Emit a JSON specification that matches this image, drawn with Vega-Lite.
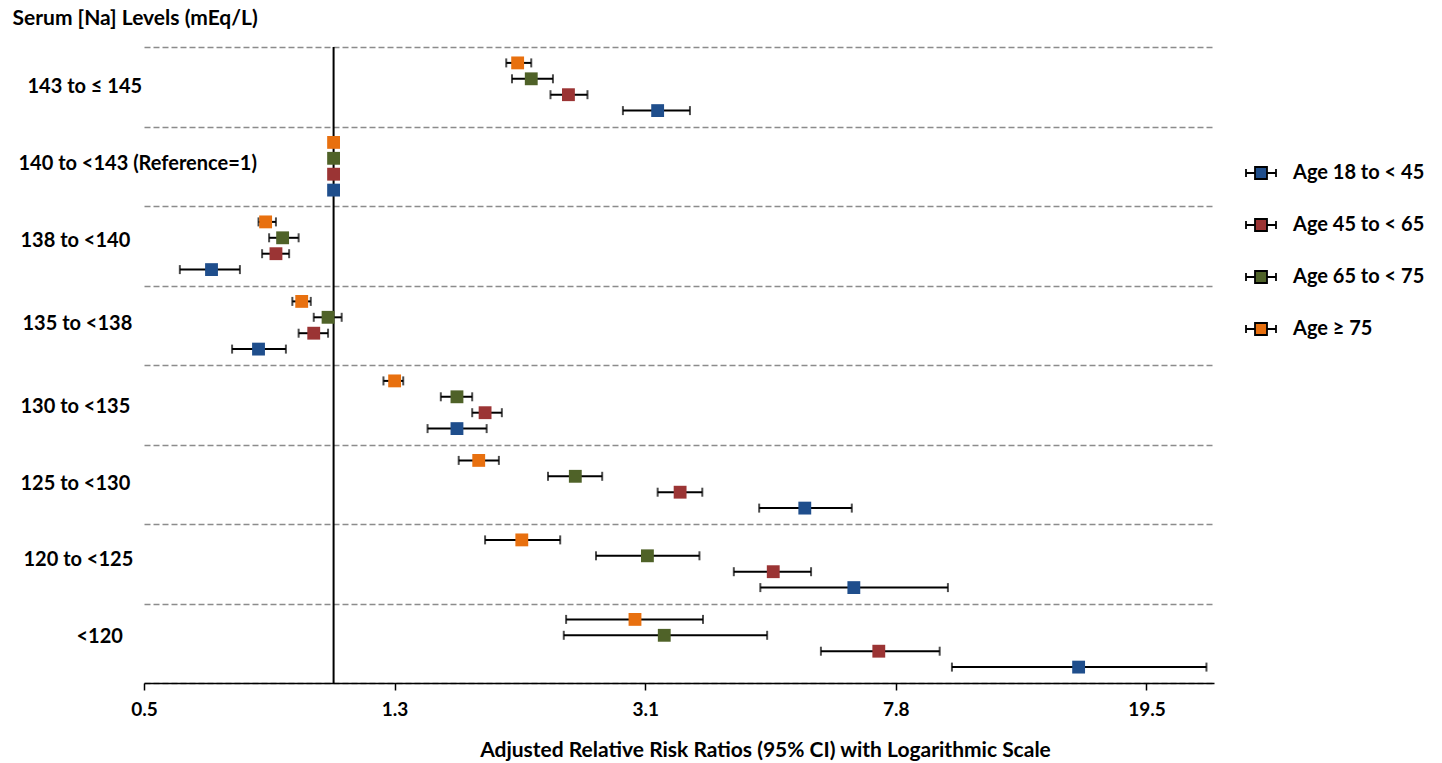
{
  "$schema": "https://vega.github.io/schema/vega-lite/v6.json",
  "width": 1070,
  "height": 636,
  "autosize": {"type": "none"},
  "padding": {"left": 144, "top": 47, "right": 228, "bottom": 80},
  "background": "white",
  "config": {"view": {"stroke": null}, "font": "Lato"},
  "data": {
    "values": [
      {"group": "143 to ≤ 145", "age": "Age ≥ 75", "est": 1.96, "lo": 1.88, "hi": 2.06},
      {"group": "143 to ≤ 145", "age": "Age 65 to < 75", "est": 2.06, "lo": 1.92, "hi": 2.23},
      {"group": "143 to ≤ 145", "age": "Age 45 to < 65", "est": 2.36, "lo": 2.21, "hi": 2.53},
      {"group": "143 to ≤ 145", "age": "Age 18 to < 45", "est": 3.27, "lo": 2.88, "hi": 3.68},
      {"group": "140 to <143 (Reference=1)", "age": "Age ≥ 75", "est": 1, "lo": 1, "hi": 1},
      {"group": "140 to <143 (Reference=1)", "age": "Age 65 to < 75", "est": 1, "lo": 1, "hi": 1},
      {"group": "140 to <143 (Reference=1)", "age": "Age 45 to < 65", "est": 1, "lo": 1, "hi": 1},
      {"group": "140 to <143 (Reference=1)", "age": "Age 18 to < 45", "est": 1, "lo": 1, "hi": 1},
      {"group": "138 to <140", "age": "Age ≥ 75", "est": 0.78, "lo": 0.76, "hi": 0.81},
      {"group": "138 to <140", "age": "Age 65 to < 75", "est": 0.83, "lo": 0.79, "hi": 0.88},
      {"group": "138 to <140", "age": "Age 45 to < 65", "est": 0.81, "lo": 0.77, "hi": 0.85},
      {"group": "138 to <140", "age": "Age 18 to < 45", "est": 0.64, "lo": 0.57, "hi": 0.71},
      {"group": "135 to <138", "age": "Age ≥ 75", "est": 0.89, "lo": 0.86, "hi": 0.92},
      {"group": "135 to <138", "age": "Age 65 to < 75", "est": 0.98, "lo": 0.93, "hi": 1.03},
      {"group": "135 to <138", "age": "Age 45 to < 65", "est": 0.93, "lo": 0.88, "hi": 0.98},
      {"group": "135 to <138", "age": "Age 18 to < 45", "est": 0.76, "lo": 0.69, "hi": 0.84},
      {"group": "130 to <135", "age": "Age ≥ 75", "est": 1.25, "lo": 1.2, "hi": 1.29},
      {"group": "130 to <135", "age": "Age 65 to < 75", "est": 1.57, "lo": 1.48, "hi": 1.66},
      {"group": "130 to <135", "age": "Age 45 to < 65", "est": 1.74, "lo": 1.66, "hi": 1.85},
      {"group": "130 to <135", "age": "Age 18 to < 45", "est": 1.57, "lo": 1.41, "hi": 1.75},
      {"group": "125 to <130", "age": "Age ≥ 75", "est": 1.7, "lo": 1.58, "hi": 1.83},
      {"group": "125 to <130", "age": "Age 65 to < 75", "est": 2.42, "lo": 2.19, "hi": 2.67},
      {"group": "125 to <130", "age": "Age 45 to < 65", "est": 3.55, "lo": 3.27, "hi": 3.85},
      {"group": "125 to <130", "age": "Age 18 to < 45", "est": 5.6, "lo": 4.74, "hi": 6.65},
      {"group": "120 to <125", "age": "Age ≥ 75", "est": 1.99, "lo": 1.74, "hi": 2.29},
      {"group": "120 to <125", "age": "Age 65 to < 75", "est": 3.15, "lo": 2.61, "hi": 3.81},
      {"group": "120 to <125", "age": "Age 45 to < 65", "est": 4.99, "lo": 4.32, "hi": 5.73},
      {"group": "120 to <125", "age": "Age 18 to < 45", "est": 6.7, "lo": 4.76, "hi": 9.45},
      {"group": "<120", "age": "Age ≥ 75", "est": 3.01, "lo": 2.34, "hi": 3.86},
      {"group": "<120", "age": "Age 65 to < 75", "est": 3.35, "lo": 2.32, "hi": 4.88},
      {"group": "<120", "age": "Age 45 to < 65", "est": 7.34, "lo": 5.94, "hi": 9.17},
      {"group": "<120", "age": "Age 18 to < 45", "est": 15.24, "lo": 9.59, "hi": 24.32}
    ]
  },
  "layer": [
    {
      "data": {"values": [{"ref": 1}]},
      "mark": {"type": "rule", "color": "black", "strokeWidth": 2},
      "encoding": {
        "x": {
          "field": "ref", "type": "quantitative",
          "title": "Adjusted Relative Risk Ratios (95% CI) with Logarithmic Scale",
          "scale": {"type": "log", "domain": [0.5, 25], "nice": false},
          "axis": {
            "values": [0.5, 1.25, 3.125, 7.8125, 19.53125],
            "format": ".1f",
            "grid": false,
            "domainColor": "black", "domainWidth": 1.5,
            "tickColor": "black", "tickWidth": 1.5, "tickSize": 7,
            "labelFont": "Lato", "labelFontSize": 19, "labelFontWeight": "bold", "labelColor": "black",
            "labelPadding": 10, "labelFlush": false,
            "titleFont": "Lato", "titleFontSize": 21, "titleFontWeight": "bold", "titleColor": "black",
            "titleX": 621, "titleY": 67, "titleBaseline": "middle", "titleAlign": "center"
          }
        }
      }
    },
    {
      "mark": {"type": "rule", "color": "black", "strokeWidth": 2},
      "encoding": {
        "x": {"field": "lo", "type": "quantitative", "title": "Adjusted Relative Risk Ratios (95% CI) with Logarithmic Scale"},
        "x2": {"field": "hi"},
        "y": {
          "field": "group", "type": "nominal",
          "sort": ["143 to ≤ 145", "140 to <143 (Reference=1)", "138 to <140", "135 to <138", "130 to <135", "125 to <130", "120 to <125", "<120"],
          "scale": {"paddingInner": 0, "paddingOuter": 0},
          "title": "Serum [Na] Levels (mEq/L)",
          "axis": {
            "titleAngle": 0, "titleAlign": "left", "titleX": -132, "titleY": -29, "titleBaseline": "middle",
            "titleFont": "Lato", "titleFontSize": 21, "titleFontWeight": "bold", "titleColor": "black",
            "labelFont": "Lato", "labelFontSize": 20, "labelFontWeight": "bold", "labelColor": "black",
            "labelAlign": "left", "labelLimit": 400, "labelBaseline": "middle",
            "labelPadding": {
              "condition": [
                {"test": "datum.value === '<120'", "value": 68},
                {"test": "datum.value === '143 to ≤ 145'", "value": 117},
                {"test": "datum.value === '120 to <125'", "value": 121},
                {"test": "datum.value === '135 to <138'", "value": 122},
                {"test": "datum.value === '140 to <143 (Reference=1)'", "value": 126}
              ],
              "value": 124
            },
            "labelOffset": {
              "condition": [
                {"test": "datum.value === '140 to <143 (Reference=1)'", "value": -3},
                {"test": "datum.value === '138 to <140'", "value": -5},
                {"test": "datum.value === '135 to <138'", "value": -2},
                {"test": "datum.value === '130 to <135'", "value": 2},
                {"test": "datum.value === '125 to <130'", "value": -1},
                {"test": "datum.value === '120 to <125'", "value": -4},
                {"test": "datum.value === '<120'", "value": -7}
              ],
              "value": 0
            },
            "ticks": false, "domain": false,
            "grid": true, "gridDash": [6, 3], "gridColor": "#8c8c8c", "gridWidth": 1.3,
            "tickBand": "extent"
          }
        },
        "yOffset": {
          "field": "age", "type": "nominal",
          "sort": ["Age ≥ 75", "Age 65 to < 75", "Age 45 to < 65", "Age 18 to < 45"],
          "scale": {"paddingInner": 0, "paddingOuter": 0.5}
        }
      }
    },
    {
      "mark": {"type": "tick", "color": "black", "thickness": 2, "size": 9},
      "encoding": {
        "x": {"field": "lo", "type": "quantitative", "title": "Adjusted Relative Risk Ratios (95% CI) with Logarithmic Scale"},
        "y": {"field": "group", "type": "nominal", "sort": ["143 to ≤ 145", "140 to <143 (Reference=1)", "138 to <140", "135 to <138", "130 to <135", "125 to <130", "120 to <125", "<120"], "title": "Serum [Na] Levels (mEq/L)"},
        "yOffset": {"field": "age", "type": "nominal", "sort": ["Age ≥ 75", "Age 65 to < 75", "Age 45 to < 65", "Age 18 to < 45"]}
      }
    },
    {
      "mark": {"type": "tick", "color": "black", "thickness": 2, "size": 9},
      "encoding": {
        "x": {"field": "hi", "type": "quantitative", "title": "Adjusted Relative Risk Ratios (95% CI) with Logarithmic Scale"},
        "y": {"field": "group", "type": "nominal", "sort": ["143 to ≤ 145", "140 to <143 (Reference=1)", "138 to <140", "135 to <138", "130 to <135", "125 to <130", "120 to <125", "<120"], "title": "Serum [Na] Levels (mEq/L)"},
        "yOffset": {"field": "age", "type": "nominal", "sort": ["Age ≥ 75", "Age 65 to < 75", "Age 45 to < 65", "Age 18 to < 45"]}
      }
    },
    {
      "mark": {"type": "point", "shape": "square", "filled": true, "size": 165, "opacity": 1},
      "encoding": {
        "x": {"field": "est", "type": "quantitative", "title": "Adjusted Relative Risk Ratios (95% CI) with Logarithmic Scale"},
        "y": {"field": "group", "type": "nominal", "sort": ["143 to ≤ 145", "140 to <143 (Reference=1)", "138 to <140", "135 to <138", "130 to <135", "125 to <130", "120 to <125", "<120"], "title": "Serum [Na] Levels (mEq/L)"},
        "yOffset": {"field": "age", "type": "nominal", "sort": ["Age ≥ 75", "Age 65 to < 75", "Age 45 to < 65", "Age 18 to < 45"]},
        "color": {
          "field": "age", "type": "nominal",
          "scale": {
            "domain": ["Age 18 to < 45", "Age 45 to < 65", "Age 65 to < 75", "Age ≥ 75"],
            "range": ["#1F4E8C", "#9B3434", "#4F6228", "#E8700F"]
          },
          "legend": {
            "title": null, "orient": "none", "legendX": 1101, "legendY": 110,
            "symbolType": "M-1,0H-0.4M0.4,0H1M-1,-0.27V0.27M1,-0.27V0.27M-0.4,-0.4H0.4V0.4H-0.4Z",
            "symbolSize": 900, "symbolStrokeColor": "black", "symbolStrokeWidth": 1.8, "symbolOpacity": 1,
            "labelFont": "Lato", "labelFontSize": 20, "labelFontWeight": "bold", "labelColor": "black",
            "labelOffset": 16, "rowPadding": 26, "padding": 0, "labelLimit": 300,
            "encode": {"symbols": {"update": {"stroke": {"value": "black"}, "strokeWidth": {"value": 1.8}}}}
          }
        }
      }
    }
  ]
}
